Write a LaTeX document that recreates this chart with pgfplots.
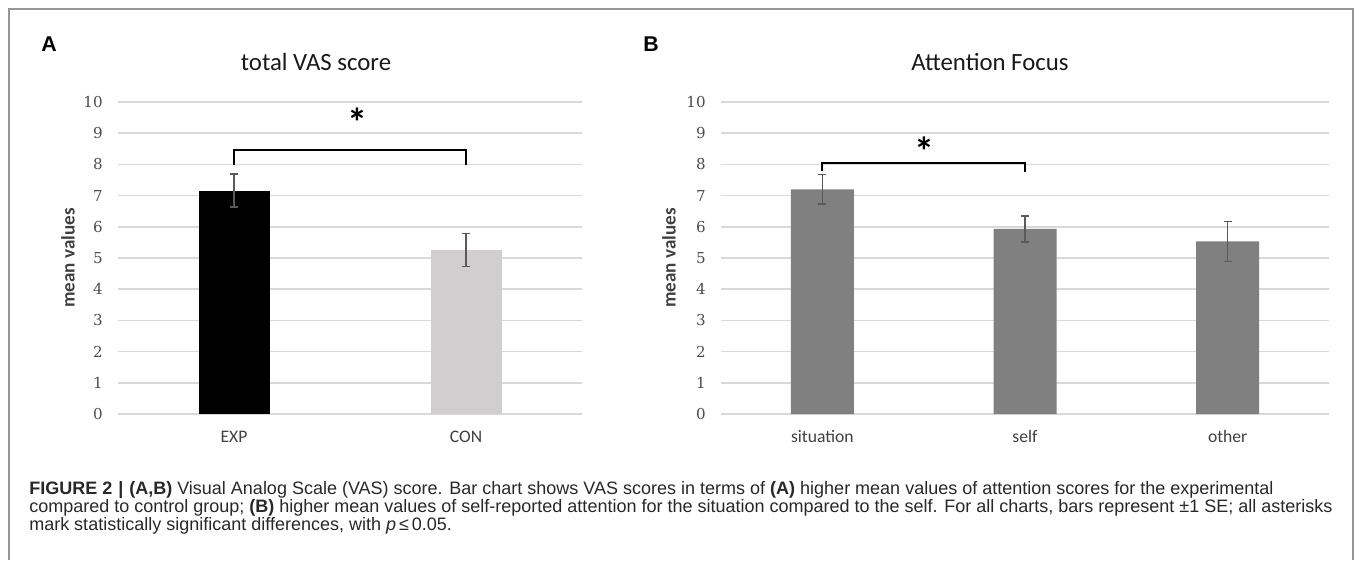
\documentclass[border=0pt]{standalone}
\usepackage{fontspec}
\setmainfont{Carlito}
\newfontfamily\tickfont{DejaVu Serif}
\newfontfamily\capfont{Liberation Sans}
\usepackage{pgfplots}
\pgfplotsset{compat=1.18}
\definecolor{gridgray}{RGB}{217,217,217}
\definecolor{errgray}{RGB}{89,89,89}
\definecolor{congray}{RGB}{208,206,206}
\definecolor{bgray}{RGB}{128,128,128}
\definecolor{framegray}{RGB}{150,150,150}
\definecolor{txtgray}{RGB}{64,64,64}
\definecolor{capgray}{RGB}{40,40,40}

\pgfplotsset{
  vasstyle/.style={
    scale only axis, height=234pt,
    ymin=0, ymax=10, ytick={0,1,...,10},
    axis line style={draw=none},
    major tick length=0pt,
    ymajorgrids, grid style={gridgray, line width=1.1pt},
    ybar,
    clip=false,
    /pgf/number format/assume math mode=true,
    yticklabel style={font=\tickfont\fontsize{11.3}{11.3}\selectfont, text=black!70, xshift=-8pt},
    xticklabel style={font=\fontsize{13.2}{13.2}\selectfont, text=black!75, yshift=-9pt},
  },
  errstyle/.style={error bars/.cd, y dir=both, y explicit,
    error bar style={errgray, line width=1.1pt},
    error mark options={rotate=90, errgray, line width=1.1pt, mark size=3pt}},
}

\begin{document}
\begin{tikzpicture}
\begin{scope}[x=0.75pt,y=-0.75pt]
\useasboundingbox (0,0) rectangle (1355,560);
\draw[framegray, line width=0.8pt] (9,560) -- (9,9) -- (1353,9) -- (1353,560);
\node[font=\capfont\bfseries\fontsize{16}{16}\selectfont] at (49,44) {A};
\node[font=\capfont\bfseries\fontsize{16}{16}\selectfont] at (651,44) {B};
\node[font=\fontsize{18.6}{18.6}\selectfont, text=black!90] at (316,62) {total VAS score};
\node[font=\fontsize{18.6}{18.6}\selectfont, text=black!90] at (990,62) {Attention Focus};
\node[rotate=90, font=\bfseries\fontsize{14.3}{14.3}\selectfont, text=txtgray] at (68,258) {mean values};
\node[rotate=90, font=\bfseries\fontsize{14.3}{14.3}\selectfont, text=txtgray] at (669,258) {mean values};
\begin{scope}[font=\capfont\fontsize{13.5}{14}\selectfont, text=capgray]
\node[anchor=base west, inner sep=0pt] at (29,494) {\textbf{FIGURE 2\,\,|\,\,(A,B)} Visual Analog Scale (VAS) score. Bar chart shows VAS scores in terms of \textbf{(A)} higher mean values of attention scores for the experimental};
\node[anchor=base west, inner sep=0pt] at (29,512) {compared to control group; \textbf{(B)} higher mean values of self-reported attention for the situation compared to the self. For all charts, bars represent ±1 SE; all asterisks};
\node[anchor=base west, inner sep=0pt] at (29,530) {mark statistically significant differences, with \textit{p}\,≤\,0.05.};
\end{scope}
\end{scope}

\begin{axis}[vasstyle, at={(88.5pt,-310.5pt)}, anchor=south west, width=348pt,
  xmin=-0.5, xmax=1.5, xtick={0,1}, xticklabels={EXP,CON}, bar width=53.25pt]
\addplot[fill=black, draw=none, bar shift=0pt, errstyle] coordinates {(0,7.16) +- (0,0.53)};
\addplot[fill=congray, draw=none, bar shift=0pt, errstyle] coordinates {(1,5.26) +- (0,0.53)};
\draw[black, line width=1.5pt] (axis cs:0,7.98) -- (axis cs:0,8.46) -- (axis cs:1,8.46) -- (axis cs:1,7.98);
\node[font=\bfseries\fontsize{30}{30}\selectfont, yshift=-5.5pt] at (axis cs:0.53,9.58) {*};
\end{axis}

\begin{axis}[vasstyle, at={(540.75pt,-310.5pt)}, anchor=south west, width=456pt,
  xmin=-0.5, xmax=2.5, xtick={0,1,2}, xticklabels={situation,self,other}, bar width=47.25pt]
\addplot[fill=bgray, draw=none, bar shift=0pt, errstyle] coordinates {(0,7.20) +- (0,0.47) (1,5.93) +- (0,0.41) (2,5.53) +- (0,0.64)};
\draw[black, line width=1.5pt] (axis cs:0,7.80) -- (axis cs:0,8.04) -- (axis cs:1,8.04) -- (axis cs:1,7.77);
\node[font=\bfseries\fontsize{30}{30}\selectfont, yshift=-5.5pt] at (axis cs:0.506,8.65) {*};
\end{axis}
\end{tikzpicture}
\end{document}
